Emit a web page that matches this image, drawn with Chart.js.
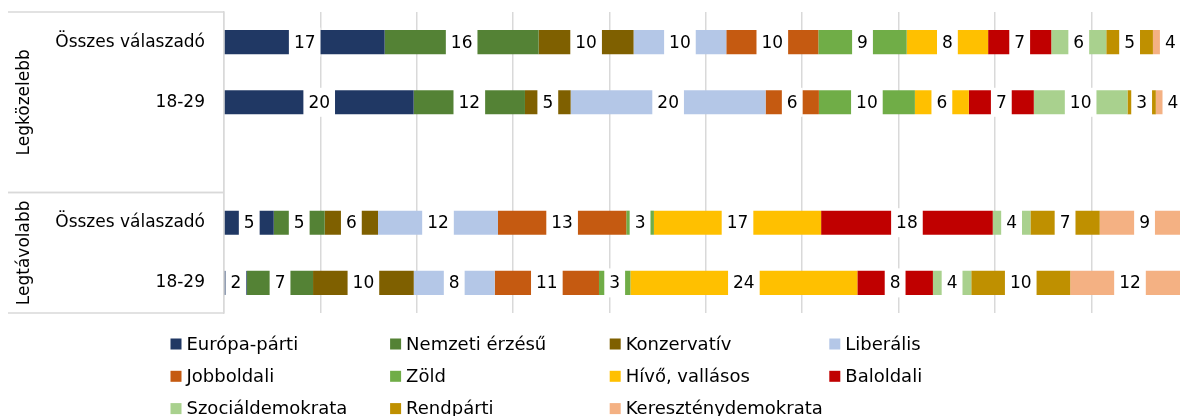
<!DOCTYPE html>
<html>
<head>
<meta charset="utf-8">
<script src="https://cdn.jsdelivr.net/npm/chart.js@4.4.1/dist/chart.umd.min.js"></script>
<style>
    body { margin: 0; background: #fff; }
    #wrap { width: 1180px; height: 416px; }
</style>
</head>
<body>
<div id="wrap"><canvas id="graphCanvas"></canvas></div>
<script>
// categories (third one is the empty gap between the two groups)
const categories = ["Összes válaszadó", "18-29", "", "Összes válaszadó", "18-29"];
const groupLabels = ["Legközelebb", "Legtávolabb"];
const groupRanges = [[0, 2], [3, 4]];

const seriesNames = [
    "Európa-párti", "Nemzeti érzésű", "Konzervatív", "Liberális",
    "Jobboldali", "Zöld", "Hívő, vallásos", "Baloldali",
    "Szociáldemokrata", "Rendpárti", "Kereszténydemokrata"
];
const seriesColors = [
    "#203864", "#548235", "#7f6000", "#b4c7e7",
    "#c55a11", "#70ad47", "#ffc000", "#c00000",
    "#a9d18e", "#bf9000", "#f4b183"
];

// percentages, labels show them rounded
const europaParti     = [16.67, 19.68, null,  5.16,  2.39];
const nemzetiErzesu   = [15.98, 11.55, null,  5.29,  6.85];
const konzervativ     = [ 9.85,  4.74, null,  5.53, 10.45];
const liberalis       = [ 9.62, 20.23, null, 12.45,  8.40];
const jobboldali      = [ 9.55,  5.53, null, 13.31, 10.82];
const zold            = [ 9.17,  9.96, null,  2.87,  3.26];
const hivoVallasos    = [ 8.45,  5.60, null, 17.35, 23.55];
const baloldali       = [ 6.55,  6.74, null, 17.81,  7.84];
const szocialdemokrata= [ 5.71,  9.72, null,  3.91,  3.98];
const rendparti       = [ 4.84,  2.94, null,  7.19, 10.27];
const keresztenydem   = [ 3.61,  3.55, null,  9.30, 12.40];

const seriesValues = [
    europaParti, nemzetiErzesu, konzervativ, liberalis,
    jobboldali, zold, hivoVallasos, baloldali,
    szocialdemokrata, rendparti, keresztenydem
];

const FONT = '"DejaVu Sans", sans-serif';
const LINE = "#d9d9d9";

// white boxes with the rounded value in the middle of each segment
const valueBoxes = {
    id: "valueBoxes",
    afterDatasetsDraw(chart){
        const c = chart.ctx;
        c.save();
        c.font = "17px " + FONT;
        c.textAlign = "center";
        c.textBaseline = "middle";
        chart.data.datasets.forEach((ds, i) => {
            chart.getDatasetMeta(i).data.forEach((bar, j) => {
                const v = ds.data[j];
                if(v == null) return;
                const text = String(Math.round(v));
                const w = c.measureText(text).width + 10;
                const cx = (bar.x + bar.base) / 2;
                c.fillStyle = "#fff";
                c.fillRect(cx - w / 2, bar.y - 14.5, w, 29);
                c.fillStyle = "#000";
                c.fillText(text, cx, bar.y + 1);
            });
        });
        c.restore();
    }
};

// outer category level: rotated group names and separator lines
const groupAxis = {
    id: "groupAxis",
    afterDraw(chart){
        const c = chart.ctx;
        const y = chart.scales.y;
        const area = chart.chartArea;
        const edge = (i) => {
            if(i < 0) return area.top;
            if(i >= categories.length - 1) return area.bottom;
            return (y.getPixelForValue(i) + y.getPixelForValue(i + 1)) / 2;
        };
        c.save();
        c.strokeStyle = LINE;
        c.lineWidth = 1.5;
        c.font = "17px " + FONT;
        c.fillStyle = "#000";
        c.textAlign = "center";
        c.textBaseline = "middle";
        groupRanges.forEach((r, g) => {
            const top = edge(r[0] - 1);
            const bottom = edge(r[1]);
            c.beginPath();
            c.moveTo(8, top);
            c.lineTo(area.left, top);
            c.moveTo(8, bottom);
            c.lineTo(area.left, bottom);
            c.stroke();
            c.save();
            c.translate(25, (top + bottom) / 2);
            c.rotate(-Math.PI / 2);
            c.fillText(groupLabels[g], 0, 0);
            c.restore();
        });
        c.restore();
    }
};

// legend as a 4 column grid under the plot
const gridLegend = {
    id: "gridLegend",
    afterDraw(chart){
        const c = chart.ctx;
        c.save();
        c.font = "18px " + FONT;
        c.textAlign = "left";
        c.textBaseline = "middle";
        chart.data.datasets.forEach((ds, i) => {
            const x = 170.5 + (i % 4) * 219.6;
            const yy = 344 + Math.floor(i / 4) * 32.3;
            c.fillStyle = ds.backgroundColor;
            c.fillRect(x, yy - 5.5, 11, 11);
            c.fillStyle = "#000";
            c.fillText(ds.label, x + 16, yy + 1);
        });
        c.restore();
    }
};

let chart = null;

function startChart(){
    const datasets = seriesNames.map((name, i) => ({
        label: name,
        data: seriesValues[i],
        backgroundColor: seriesColors[i],
        borderWidth: 0,
        barPercentage: 0.4,
        categoryPercentage: 1.0
    }));
    const ctx = document.getElementById("graphCanvas").getContext("2d");
    chart = new Chart(ctx, {
        type: "bar",
        data: { labels: categories, datasets: datasets },
        plugins: [valueBoxes, groupAxis, gridLegend],
        options: {
            indexAxis: "y",
            responsive: true,
            maintainAspectRatio: false,
            animation: false,
            layout: { padding: { top: 12, bottom: 103, left: 0, right: 0 } },
            plugins: { legend: { display: false }, tooltip: { enabled: false } },
            scales: {
                x: {
                    stacked: true,
                    min: 0,
                    max: 99.2,
                    ticks: { display: false, stepSize: 10 },
                    grid: { color: LINE, lineWidth: 1.5, drawTicks: false },
                    border: { display: false },
                    afterBuildTicks(s){ s.ticks = s.ticks.filter(t => t.value % 10 === 0); }
                },
                y: {
                    stacked: true,
                    // tick marks hidden, tickLength only pushes the labels off the axis
                    grid: { display: false, drawTicks: true, tickLength: 19 },
                    border: { color: LINE, width: 1.5 },
                    ticks: { color: "#000", font: { family: FONT, size: 17 }, padding: 0, autoSkip: false },
                    afterFit(s){ s.width = 224; }
                }
            }
        }
    });
}

startChart();
</script>
</body>
</html>
